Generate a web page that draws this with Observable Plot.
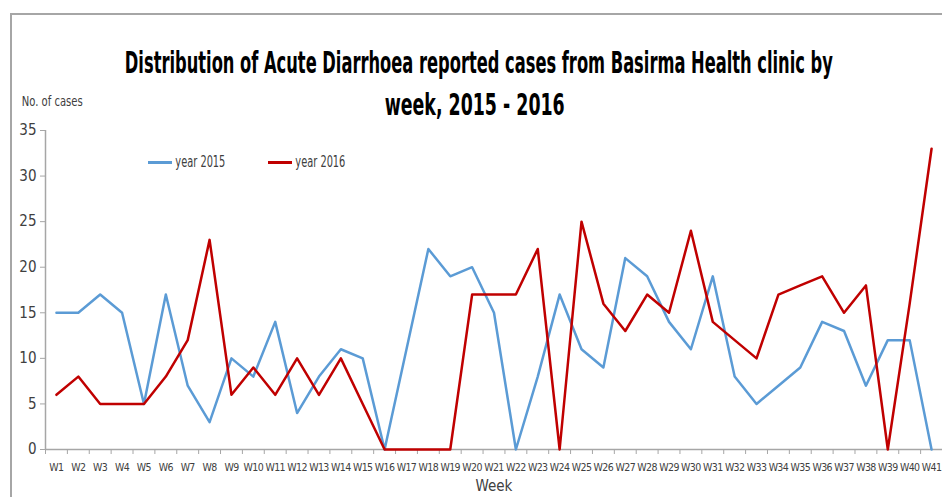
<!DOCTYPE html>
<html><head><meta charset="utf-8">
<script src="https://cdn.jsdelivr.net/npm/d3@7"></script>
<script src="https://cdn.jsdelivr.net/npm/@observablehq/plot@0.6"></script>
<style>
body{margin:0;background:#fff;}
#wrap{position:relative;width:942px;height:497px;overflow:hidden;font-family:"Liberation Sans Narrow","DejaVu Sans Condensed","Liberation Sans",sans-serif;}
#frame{position:absolute;left:10px;top:13px;width:1000px;height:1000px;border-top:2px solid #a6a6a6;border-left:2px solid #a6a6a6;pointer-events:none;}
#title{position:relative;height:120px;}
.fit{position:absolute;white-space:nowrap;transform-origin:center center;}
.tl{font-weight:bold;font-size:30px;color:#000;}
.sm{font-size:14px;color:#404040;}
.leg{font-size:15px;color:#404040;}
.sw{position:absolute;height:3px;}
svg [aria-label="x-axis tick label"] text{letter-spacing:-0.6px;}
</style>
</head><body>
<div id="wrap">
  <div id="frame"></div>
  <div id="title">
    <span class="fit tl" id="t1" data-cx="479" data-cy="62" data-w="708"></span>
    <span class="fit tl" id="t2" data-cx="475" data-cy="104" data-w="180"></span>
    <span class="fit sm" id="ylab" data-cx="52" data-cy="101" data-w="61"></span>
  </div>
  <div id="chart"></div>
  <div id="legend"></div>
</div>
<script>
const titleLines = ["Distribution of Acute Diarrhoea reported cases from Basirma Health clinic by", "week, 2015 - 2016"];
const yLabel = "No. of cases";
const xLabel = "Week";
const weeks = ["W1","W2","W3","W4","W5","W6","W7","W8","W9","W10","W11","W12","W13","W14","W15","W16","W17","W18","W19","W20","W21","W22","W23","W24","W25","W26","W27","W28","W29","W30","W31","W32","W33","W34","W35","W36","W37","W38","W39","W40","W41"];
const y2015 = [15,15,17,15,5,17,7,3,10,8,14,4,8,11,10,0,11,22,19,20,15,0,8,17,11,9,21,19,14,11,19,8,5,7,9,14,13,7,12,12,0];
const y2016 = [6,8,5,5,5,8,12,23,6,9,6,10,6,10,5,0,0,0,0,17,17,17,22,0,25,16,13,17,15,24,14,12,10,17,18,19,15,18,0,16,33];
const seriesNames = ["year 2015","year 2016"];
const seriesColors = ["#5b9bd5","#c00000"];
const yTicks = [0,5,10,15,20,25,30,35];

document.getElementById("t1").textContent = titleLines[0];
document.getElementById("t2").textContent = titleLines[1];
document.getElementById("ylab").textContent = yLabel;

const rows = [];
weeks.forEach((w,i)=>{
  rows.push({wk:i+1, series:seriesNames[0], v:y2015[i]});
  rows.push({wk:i+1, series:seriesNames[1], v:y2016[i]});
});
const idx = weeks.map((w,i)=>i+1);
const bounds = d3.range(0, weeks.length+1).map(i=>i+0.5);
const font = '"Liberation Sans Narrow","DejaVu Sans Condensed","Liberation Sans",sans-serif';

const chart = Plot.plot({
  width:942, height:377,
  marginTop:10, marginBottom:48, marginLeft:45, marginRight:0,
  style:{fontFamily:font, background:"transparent", color:"#404040"},
  x:{type:"linear", domain:[0.5, weeks.length+0.5]},
  y:{domain:[0,35]},
  color:{domain:seriesNames, range:seriesColors},
  marks:[
    Plot.ruleX([0.5], {stroke:"#a6a6a6", strokeWidth:1.5}),
    Plot.ruleY([0], {stroke:"#a6a6a6", strokeWidth:1.5}),
    Plot.axisY({ticks:yTicks, tickSize:5, tickPadding:4, fontSize:15, stroke:"#a6a6a6", fill:"#404040", label:null}),
    Plot.axisX({ticks:bounds, tickSize:5, tickFormat:()=>"", stroke:"#a6a6a6", label:null}),
    Plot.axisX({ticks:idx, tickSize:0, tickPadding:14, tickFormat:i=>weeks[i-1], fontSize:10.5, fill:"#404040", label:null}),
    Plot.text([xLabel], {frameAnchor:"bottom", dy:41, fontSize:15, fill:"#404040"}),
    Plot.line(rows, {x:"wk", y:"v", z:"series", stroke:"series", strokeWidth:2.5})
  ]
});
document.getElementById("chart").appendChild(chart);

// legend
const legend = document.getElementById("legend");
const legPos = [148, 268];
seriesNames.forEach((s,i)=>{
  const sw = document.createElement("div");
  sw.className="sw"; sw.style.left=legPos[i]+"px"; sw.style.top="161px"; sw.style.width="24px"; sw.style.background=seriesColors[i];
  legend.appendChild(sw);
  const t = document.createElement("span");
  t.className="fit leg"; t.dataset.cx=legPos[i]+27+25; t.dataset.cy=162; t.dataset.w=50; t.textContent=s;
  legend.appendChild(t);
});

// fit text widths
document.querySelectorAll(".fit").forEach(el=>{
  const r = el.getBoundingClientRect();
  const w = r.width, h = r.height;
  const s = (+el.dataset.w)/w;
  el.style.left = (+el.dataset.cx - w/2)+"px";
  el.style.top = (+el.dataset.cy - h/2)+"px";
  el.style.transform = `scaleX(${s})`;
});
</script>
</body></html>
